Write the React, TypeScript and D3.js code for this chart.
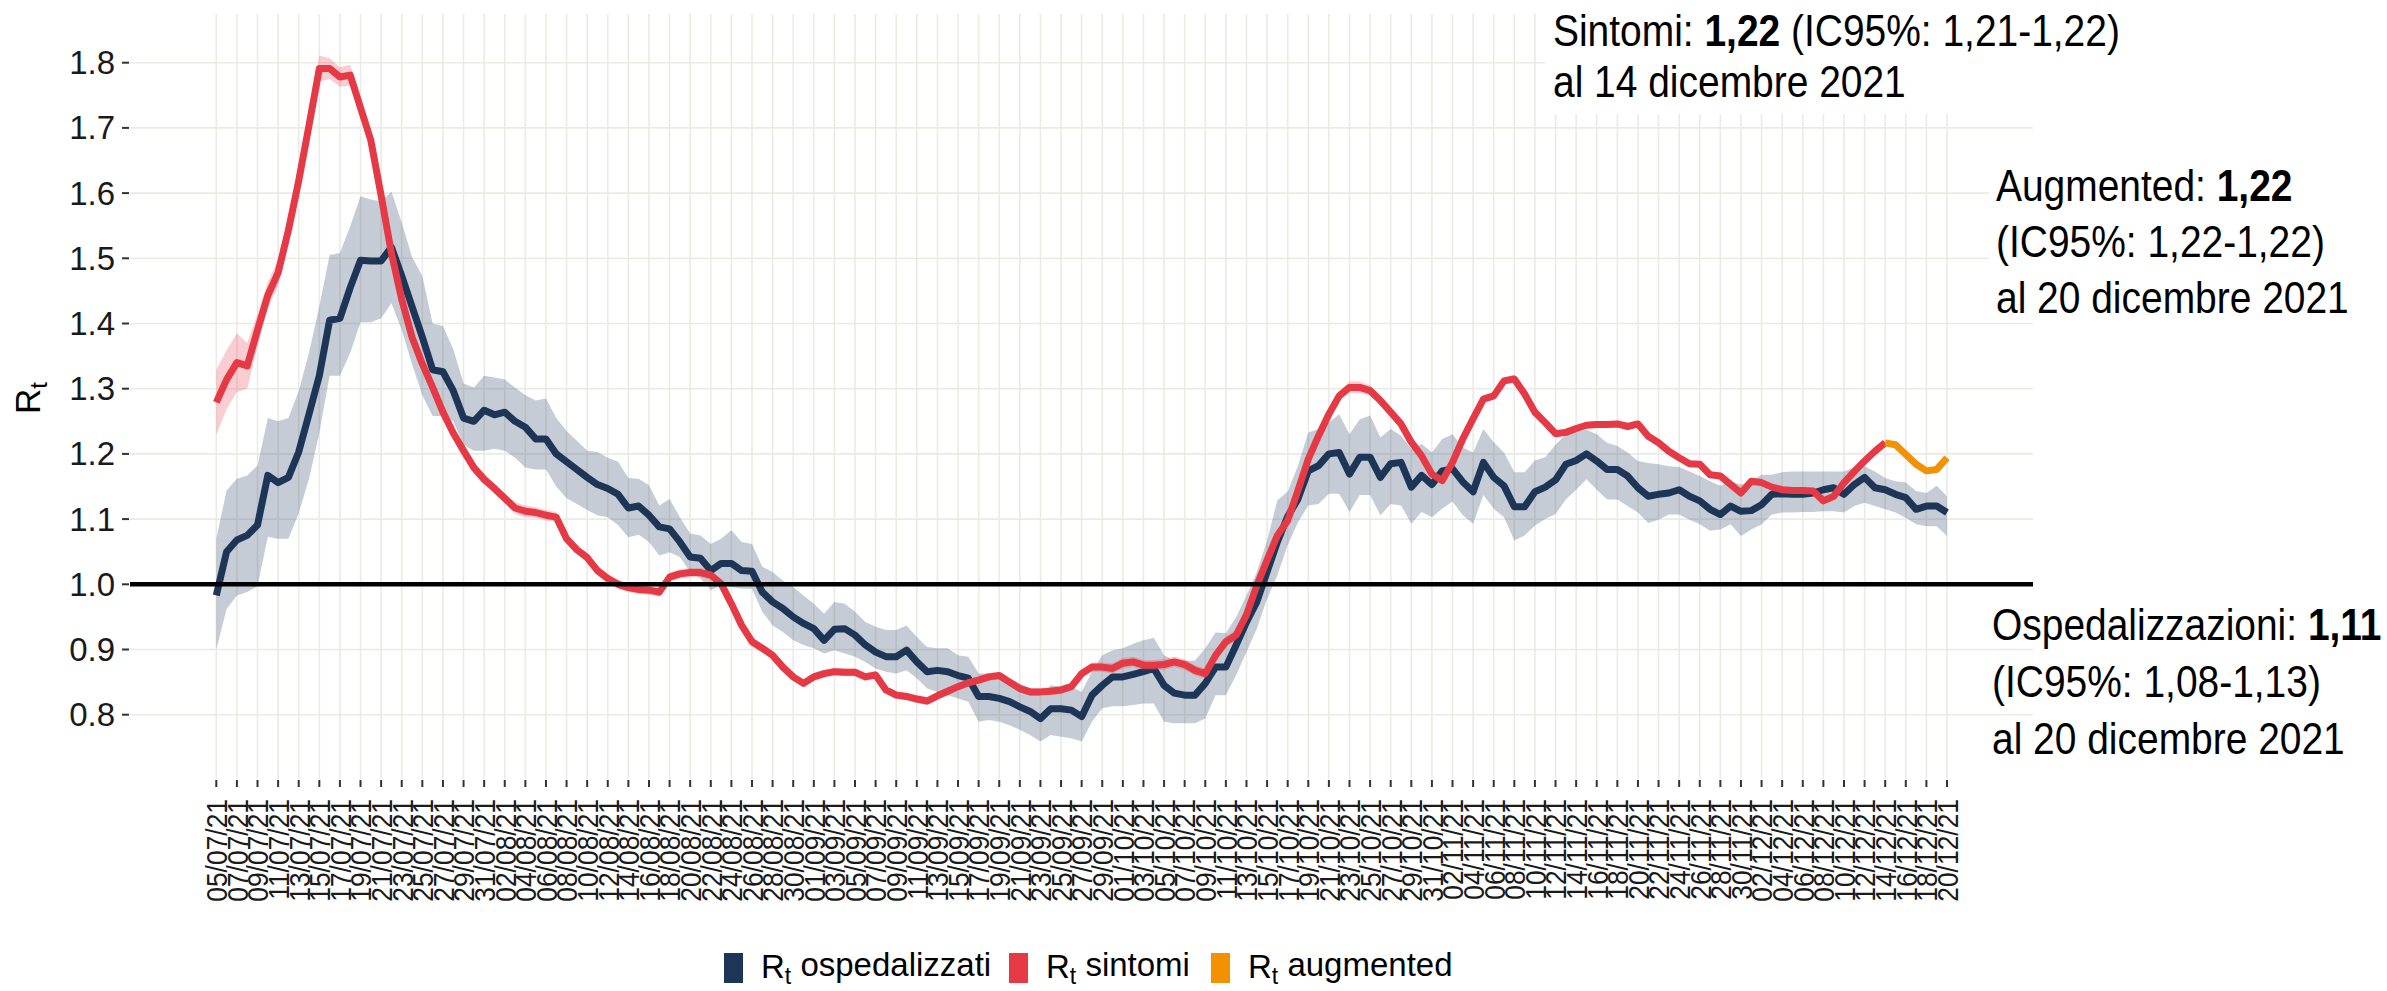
import React from "react";
import * as d3 from "d3";

const width = 2387;
const height = 991;

// first day of the series (05/07/2021), one value per day
const firstDay = new Date(Date.UTC(2021, 6, 5));
const lastDay = new Date(Date.UTC(2021, 11, 20));
const augmentedFirstDay = new Date(Date.UTC(2021, 11, 14));

const ospedalizzati = [
  0.983, 1.05, 1.068, 1.075, 1.091, 1.167, 1.156, 1.164, 1.203, 1.261,
  1.32, 1.405, 1.408, 1.455, 1.497, 1.496, 1.496, 1.517, 1.473, 1.426,
  1.379, 1.329, 1.326, 1.297, 1.255, 1.25, 1.267, 1.26, 1.264, 1.25,
  1.241, 1.223, 1.223, 1.2, 1.188, 1.176, 1.164, 1.153, 1.147, 1.138,
  1.117, 1.12, 1.106, 1.088, 1.085, 1.065, 1.042, 1.04, 1.021, 1.032,
  1.032, 1.021, 1.02, 0.988, 0.973, 0.963, 0.95, 0.94, 0.932, 0.914,
  0.931, 0.932, 0.922, 0.907, 0.896, 0.889, 0.889, 0.899, 0.881, 0.866,
  0.868, 0.866, 0.86, 0.856, 0.828, 0.828, 0.825, 0.82, 0.812, 0.805,
  0.794, 0.809, 0.809, 0.807, 0.797, 0.83, 0.845, 0.858, 0.858, 0.862,
  0.866, 0.871, 0.845, 0.833, 0.83, 0.83, 0.848, 0.873, 0.873, 0.907,
  0.942, 0.973, 1.019, 1.065, 1.104, 1.131, 1.174, 1.182, 1.2, 1.202,
  1.169, 1.195, 1.195, 1.164, 1.185, 1.187, 1.149, 1.167, 1.153, 1.174,
  1.177, 1.157, 1.142, 1.187, 1.164, 1.151, 1.119, 1.119, 1.142, 1.149,
  1.16, 1.184, 1.19, 1.2, 1.189, 1.176, 1.176, 1.166, 1.148, 1.135,
  1.138, 1.14, 1.145, 1.135, 1.128, 1.115, 1.107, 1.12, 1.112, 1.113,
  1.122, 1.138, 1.139, 1.138, 1.138, 1.14, 1.145, 1.148, 1.138, 1.153,
  1.164, 1.148, 1.145, 1.138, 1.133, 1.115, 1.12, 1.12, 1.11,
];

const ospedalizzatiLo = [
  0.9, 0.962, 0.983, 0.988, 0.997, 1.073, 1.07, 1.07, 1.109, 1.162,
  1.232, 1.32, 1.32, 1.355, 1.402, 1.402, 1.408, 1.431, 1.39, 1.338,
  1.29, 1.258, 1.258, 1.25, 1.214, 1.205, 1.205, 1.208, 1.205, 1.194,
  1.179, 1.176, 1.176, 1.15, 1.132, 1.123, 1.114, 1.106, 1.103, 1.091,
  1.072, 1.076, 1.065, 1.044, 1.049, 1.042, 1.019, 1.009, 0.991, 0.998,
  0.996, 0.993, 0.993, 0.958, 0.937, 0.927, 0.914, 0.907, 0.902, 0.894,
  0.899, 0.894, 0.889, 0.881, 0.871, 0.866, 0.863, 0.868, 0.856, 0.84,
  0.835, 0.83, 0.825, 0.82, 0.789, 0.792, 0.789, 0.784, 0.777, 0.769,
  0.759, 0.769, 0.766, 0.764, 0.759, 0.789, 0.81, 0.813, 0.813, 0.815,
  0.817, 0.817, 0.789, 0.787, 0.787, 0.787, 0.794, 0.83, 0.83, 0.861,
  0.896, 0.932, 0.978, 1.014, 1.06, 1.095, 1.121, 1.123, 1.139, 1.139,
  1.111, 1.137, 1.137, 1.106, 1.123, 1.121, 1.093, 1.111, 1.103, 1.116,
  1.127, 1.106, 1.093, 1.137, 1.116, 1.103, 1.067, 1.075, 1.09, 1.1,
  1.108, 1.13, 1.145, 1.161, 1.145, 1.13, 1.13, 1.12, 1.11, 1.094,
  1.099, 1.107, 1.107, 1.099, 1.092, 1.082, 1.084, 1.092, 1.074, 1.084,
  1.092, 1.107, 1.11, 1.11, 1.111, 1.111, 1.112, 1.112, 1.11, 1.12,
  1.125, 1.12, 1.115, 1.11, 1.102, 1.092, 1.089, 1.089, 1.074,
];

const ospedalizzatiHi = [
  1.07, 1.144, 1.162, 1.167, 1.182, 1.255, 1.25, 1.255, 1.296, 1.355,
  1.426, 1.505, 1.508, 1.549, 1.595, 1.59, 1.587, 1.602, 1.555, 1.502,
  1.473, 1.4, 1.396, 1.361, 1.308, 1.302, 1.32, 1.317, 1.314, 1.302,
  1.29, 1.282, 1.285, 1.255, 1.235, 1.22, 1.205, 1.203, 1.194, 1.188,
  1.163, 1.162, 1.152, 1.121, 1.131, 1.103, 1.078, 1.075, 1.062, 1.07,
  1.083, 1.065, 1.062, 1.027, 1.019, 1.006, 0.996, 0.983, 0.97, 0.955,
  0.973, 0.97, 0.958, 0.942, 0.935, 0.93, 0.93, 0.937, 0.919, 0.904,
  0.902, 0.902, 0.891, 0.889, 0.863, 0.863, 0.861, 0.856, 0.848, 0.84,
  0.83, 0.845, 0.843, 0.843, 0.835, 0.866, 0.891, 0.899, 0.902, 0.909,
  0.914, 0.918, 0.891, 0.883, 0.882, 0.883, 0.902, 0.926, 0.925, 0.95,
  0.983, 1.019, 1.067, 1.129, 1.142, 1.182, 1.233, 1.238, 1.248, 1.261,
  1.23, 1.253, 1.259, 1.225, 1.238, 1.228, 1.207, 1.215, 1.202, 1.223,
  1.23, 1.21, 1.202, 1.238, 1.218, 1.202, 1.172, 1.172, 1.19, 1.195,
  1.214, 1.23, 1.235, 1.237, 1.23, 1.217, 1.212, 1.202, 1.189, 1.186,
  1.184, 1.181, 1.18, 1.173, 1.166, 1.158, 1.151, 1.158, 1.153, 1.158,
  1.168, 1.168, 1.172, 1.173, 1.173, 1.173, 1.173, 1.173, 1.173, 1.179,
  1.181, 1.173, 1.163, 1.158, 1.156, 1.143, 1.14, 1.151, 1.135,
];

const sintomi = [
  1.279, 1.314, 1.34, 1.335, 1.39, 1.443, 1.478, 1.543, 1.619, 1.704,
  1.791, 1.791, 1.778, 1.781, 1.731, 1.681, 1.596, 1.508, 1.437, 1.379,
  1.338, 1.302, 1.264, 1.232, 1.205, 1.179, 1.161, 1.147, 1.132, 1.117,
  1.112, 1.11, 1.106, 1.103, 1.07, 1.053, 1.041, 1.021, 1.009, 1.0,
  0.995, 0.992, 0.991, 0.988, 1.011, 1.016, 1.018, 1.018, 1.014, 1.001,
  0.97, 0.937, 0.912, 0.902, 0.891, 0.873, 0.858, 0.848, 0.858, 0.863,
  0.866, 0.865, 0.865, 0.858, 0.861, 0.838, 0.83, 0.828, 0.824, 0.821,
  0.829, 0.836, 0.843, 0.849, 0.853, 0.858, 0.86, 0.85, 0.84, 0.835,
  0.835, 0.836, 0.838, 0.843, 0.863, 0.873, 0.873, 0.871, 0.879, 0.881,
  0.876, 0.876, 0.877, 0.881, 0.877, 0.868, 0.863, 0.891, 0.912, 0.922,
  0.953, 0.998, 1.037, 1.075, 1.098, 1.144, 1.192, 1.228, 1.261, 1.289,
  1.302, 1.302, 1.297, 1.282, 1.264, 1.246, 1.218, 1.197, 1.169, 1.159,
  1.187, 1.223, 1.254, 1.284, 1.289, 1.312, 1.315, 1.292, 1.264, 1.248,
  1.231, 1.233, 1.239, 1.244, 1.245, 1.245, 1.246, 1.242, 1.246, 1.227,
  1.217, 1.204, 1.194, 1.185, 1.184, 1.168, 1.166, 1.153, 1.14, 1.158,
  1.156, 1.149, 1.145, 1.144, 1.144, 1.143, 1.128, 1.135, 1.156, 1.173,
  1.189, 1.204, 1.217,
];

// half width of the sintomi 95% band
const sintomiCi = [
  0.05, 0.045, 0.045, 0.035, 0.025, 0.02, 0.02, 0.02, 0.018, 0.016,
  0.02, 0.016, 0.015, 0.016, 0.014, 0.012, 0.01, 0.009, 0.009, 0.008,
  0.008, 0.008, 0.008, 0.008, 0.008, 0.008, 0.008, 0.008, 0.008, 0.009,
  0.009, 0.008, 0.008, 0.008, 0.007, 0.007, 0.007, 0.007, 0.007, 0.007,
  0.007, 0.007, 0.007, 0.007, 0.007, 0.007, 0.007, 0.007, 0.007, 0.007,
  0.007, 0.007, 0.007, 0.007, 0.006, 0.006, 0.006, 0.006, 0.006, 0.006,
  0.006, 0.006, 0.006, 0.006, 0.006, 0.006, 0.006, 0.006, 0.006, 0.006,
  0.006, 0.006, 0.006, 0.006, 0.006, 0.006, 0.006, 0.006, 0.006, 0.006,
  0.006, 0.006, 0.006, 0.006, 0.007, 0.007, 0.007, 0.008, 0.008, 0.008,
  0.008, 0.008, 0.008, 0.008, 0.008, 0.008, 0.008, 0.008, 0.008, 0.008,
  0.008, 0.008, 0.008, 0.008, 0.008, 0.008, 0.008, 0.008, 0.008, 0.008,
  0.009, 0.009, 0.008, 0.008, 0.007, 0.007, 0.006, 0.006, 0.006, 0.006,
  0.006, 0.006, 0.006, 0.006, 0.006, 0.006, 0.006, 0.006, 0.006, 0.005,
  0.005, 0.005, 0.005, 0.005, 0.005, 0.005, 0.005, 0.005, 0.005, 0.005,
  0.005, 0.005, 0.005, 0.005, 0.005, 0.005, 0.005, 0.005, 0.005, 0.005,
  0.005, 0.005, 0.005, 0.005, 0.005, 0.005, 0.005, 0.004, 0.004, 0.004,
  0.004, 0.004, 0.004,
];

// augmented nowcast, from 14/12 to 20/12
const augmented = [1.217, 1.214, 1.199, 1.184, 1.174, 1.176, 1.194];

const yTicks = [0.8, 0.9, 1.0, 1.1, 1.2, 1.3, 1.4, 1.5, 1.6, 1.7, 1.8];

const colors = {
  ospedalizzati: "#1d3557",
  sintomi: "#e63946",
  augmented: "#f39200",
};

const legendItems = [
  { key: "ospedalizzati", label: " ospedalizzati", x: 724 },
  { key: "sintomi", label: " sintomi", x: 1009 },
  { key: "augmented", label: " augmented", x: 1211 },
];

// annotation blocks: lines made of [text, bold] pieces
const annotations = [
  {
    x: 1553, y: 46, step: 51, box: [1546, 14, 500, 100],
    lines: [
      [["Sintomi: ", false], ["1,22", true], [" (IC95%: 1,21-1,22)", false]],
      [["al 14 dicembre 2021", false]],
    ],
  },
  {
    x: 1996, y: 201, step: 56, box: [1989, 160, 60, 158],
    lines: [
      [["Augmented: ", false], ["1,22", true]],
      [["(IC95%: 1,22-1,22)", false]],
      [["al 20 dicembre 2021", false]],
    ],
  },
  {
    x: 1992, y: 640, step: 57, box: null,
    lines: [
      [["Ospedalizzazioni: ", false], ["1,11", true]],
      [["(IC95%: 1,08-1,13)", false]],
      [["al 20 dicembre 2021", false]],
    ],
  },
];

const font = "'Liberation Sans', Arial, Helvetica, sans-serif";
const panel = { left: 130, right: 2033, top: 14, bottom: 779 };

const App = () => {
  const x = d3.scaleUtc().domain([firstDay, lastDay]).range([216.3, 1947]);
  const y = d3.scaleLinear().domain([0.8, 1.8]).range([714.7, 62.7]);

  const day = (i) => d3.utcDay.offset(firstDay, i);
  const augDay = (i) => d3.utcDay.offset(augmentedFirstDay, i);

  const osp = ospedalizzati.map((v, i) => ({ d: day(i), v, lo: ospedalizzatiLo[i], hi: ospedalizzatiHi[i] }));
  const sin = sintomi.map((v, i) => ({ d: day(i), v, lo: v - sintomiCi[i], hi: v + sintomiCi[i] }));
  const aug = augmented.map((v, i) => ({ d: augDay(i), v }));

  const line = d3.line().x((p) => x(p.d)).y((p) => y(p.v));
  const band = d3.area().x((p) => x(p.d)).y0((p) => y(p.lo)).y1((p) => y(p.hi));

  const xTicks = d3.utcDay.range(firstDay, d3.utcDay.offset(lastDay, 1), 2);
  const fmt = d3.utcFormat("%d/%m/%y");

  return (
    <svg
      width={width}
      height={height}
      style={{ position: "absolute", left: 0, top: 0, background: "#fff" }}
      fontFamily={font}
    >
      {/* grid */}
      <g stroke="#ebebe5" strokeWidth={1.6}>
        {yTicks.map((t) => (
          <line key={t} x1={panel.left} x2={panel.right} y1={y(t)} y2={y(t)} />
        ))}
        {xTicks.map((t, i) => (
          <line key={i} x1={x(t)} x2={x(t)} y1={panel.top} y2={panel.bottom} />
        ))}
      </g>

      {/* white label boxes hide the grid */}
      {annotations.filter((a) => a.box).map((a, i) => (
        <rect key={i} x={a.box[0]} y={a.box[1]} width={a.box[2]} height={a.box[3]} fill="#fff" />
      ))}

      <path d={band(osp)} fill={colors.ospedalizzati} fillOpacity={0.25} />
      <path d={line(osp)} fill="none" stroke={colors.ospedalizzati} strokeWidth={7} strokeLinejoin="round" />
      <path d={band(sin)} fill={colors.sintomi} fillOpacity={0.25} />
      <path d={line(sin)} fill="none" stroke={colors.sintomi} strokeWidth={7} strokeLinejoin="round" />
      <path d={line(aug)} fill="none" stroke={colors.augmented} strokeWidth={7} strokeLinejoin="round" />

      <line x1={panel.left} x2={panel.right} y1={y(1)} y2={y(1)} stroke="#000" strokeWidth={4.5} />

      {/* y axis */}
      {yTicks.map((t) => (
        <g key={t} transform={`translate(0,${y(t)})`}>
          <line x1={122} x2={129} stroke="#333" strokeWidth={2} />
          <text x={115} dy="0.35em" textAnchor="end" fontSize={33} fill="#1a1a1a">
            {d3.format(".1f")(t)}
          </text>
        </g>
      ))}
      <text transform="translate(40,398) rotate(-90)" textAnchor="middle" fontSize={35} fill="#000">
        R<tspan fontSize={24} dy="0.3em">t</tspan>
      </text>

      {/* x axis: narrow rotated dates */}
      {xTicks.map((t, i) => (
        <g key={i} transform={`translate(${x(t)},0)`}>
          <line y1={780} y2={787} stroke="#333" strokeWidth={2} />
          <text
            transform="translate(0,799) rotate(-90) scale(0.88,1)"
            dy="0.36em"
            textAnchor="end"
            fontSize={30}
            fill="#1a1a1a"
          >
            {fmt(t)}
          </text>
        </g>
      ))}

      {/* annotations */}
      {annotations.map((a, i) => (
        <g key={i} transform={`translate(${a.x},${a.y}) scale(0.885,1)`}>
          {a.lines.map((ln, j) => (
            <text key={j} y={j * a.step} fontSize={44} fill="#000">
              {ln.map(([s, b], k) => (
                <tspan key={k} fontWeight={b ? "bold" : "normal"}>{s}</tspan>
              ))}
            </text>
          ))}
        </g>
      ))}

      {/* legend */}
      {legendItems.map((it) => (
        <g key={it.key} transform={`translate(${it.x},0)`}>
          <rect x={0} y={953} width={19} height={30} fill={colors[it.key]} />
          <text x={37} y={978} fontSize={33} fill="#000">
            R<tspan fontSize={23} dy="0.25em">t</tspan>
            <tspan dy="-0.25em">{it.label}</tspan>
          </text>
        </g>
      ))}
    </svg>
  );
};

export default App;
